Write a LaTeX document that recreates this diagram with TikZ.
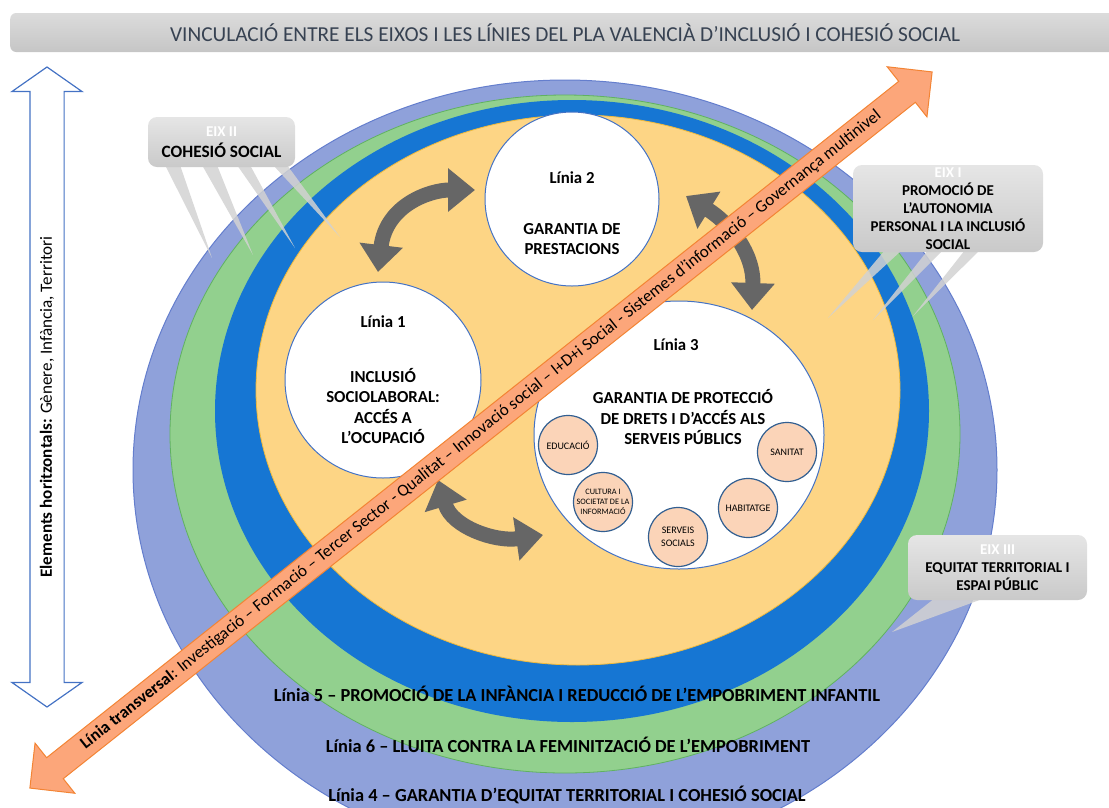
\documentclass[tikz,border=0pt]{standalone}
\usepackage{fontspec}
\setmainfont{Carlito}
\usetikzlibrary{shapes.arrows,shapes.geometric,arrows.meta}

\definecolor{lavanda}{RGB}{143,161,218}
\definecolor{lavandavora}{RGB}{100,126,205}
\definecolor{verd}{RGB}{146,208,142}
\definecolor{verdvora}{RGB}{96,178,96}
\definecolor{blau}{RGB}{22,118,211}
\definecolor{groc}{RGB}{253,213,133}
\definecolor{grocvora}{RGB}{240,186,60}
\definecolor{vorablau}{RGB}{68,114,196}
\definecolor{salmo}{RGB}{252,166,122}
\definecolor{taronja}{RGB}{243,132,52}
\definecolor{pell}{RGB}{251,212,184}
\definecolor{vorapell}{RGB}{50,95,145}
\definecolor{fletxa}{RGB}{102,102,102}
\definecolor{titol}{RGB}{55,66,82}

\begin{document}
\begin{tikzpicture}[x=1pt,y=-1pt,
    every node/.append style={inner sep=0pt},
    linia/.style={circle,draw=vorablau,fill=white,line width=1pt},
    txtlinia/.style={font=\bfseries\fontsize{16.8}{20.5}\selectfont,align=center},
    ambit/.style={circle,draw=vorapell,fill=pell,line width=1.2pt,minimum size=59pt,align=center},
    gir/.style={draw=fletxa,line width=15pt,{Triangle[width=42pt,length=27pt]}-{Triangle[width=42pt,length=27pt]}},
    eix/.style={rounded corners=9pt,top color=gray!20,bottom color=gray!42,align=center},
    punxa/.style={fill=gray!35,opacity=0.85},
    eixtxt/.style={font=\bfseries\fontsize{15}{18}\selectfont,align=center},
    peu/.style={font=\bfseries\fontsize{18.4}{20}\selectfont}]

\useasboundingbox (0,0) rectangle (1109,807);

% anells dels eixos
\filldraw[fill=lavanda,draw=lavandavora,line width=1pt] (565,470) ellipse [x radius=432pt,y radius=390pt];
\filldraw[fill=verd,draw=verdvora,line width=0.8pt] (565,434) ellipse [x radius=395pt,y radius=339pt];
\fill[blau] (572,411) ellipse [x radius=357pt,y radius=311pt];
\filldraw[fill=groc,draw=grocvora,line width=0.8pt] (578,390) ellipse [x radius=322pt,y radius=275pt];

% linies
\node[linia,minimum size=174pt] (l2) at (572,199) {};
\node[txtlinia] (l2a) at (572,178) {Línia 2};
\node[txtlinia] (l2b) at (572,239) {GARANTIA DE\\PRESTACIONS};

\node[linia,minimum size=196pt] (l1) at (383,380) {};
\node[txtlinia] (l1a) at (383,322) {Línia 1};
\node[txtlinia] (l1b) at (383,406) {INCLUSIÓ\\SOCIOLABORAL:\\ACCÉS A\\L’OCUPACIÓ};

\node[linia,ellipse,minimum width=290pt,minimum height=268pt] (l3) at (679,435) {};
\node[txtlinia] (l3a) at (676,345) {Línia 3};
\node[txtlinia] (l3b) at (683,417) {GARANTIA DE PROTECCIÓ\\DE DRETS I D’ACCÉS ALS\\SERVEIS PÚBLICS};

\node[ambit,font=\fontsize{10}{12}\selectfont] (educ) at (568,445) {EDUCACIÓ};
\node[ambit,font=\fontsize{10}{12}\selectfont] (sanit) at (787,452) {SANITAT};
\node[ambit,font=\fontsize{8.3}{10}\selectfont] (cult) at (603,502) {CULTURA I\\SOCIETAT DE LA\\INFORMACIÓ};
\node[ambit,font=\fontsize{10}{13}\selectfont] (serv) at (678,537) {SERVEIS\\SOCIALS};
\node[ambit,font=\fontsize{10}{12}\selectfont] (habit) at (748,508) {HABITATGE};

% fletxes de relacio
\coordinate (g12a) at (378,272);
\coordinate (g12b) at (475,190);
\coordinate (g23a) at (686,196);
\coordinate (g23b) at (752,310);
\coordinate (g13a) at (438,480);
\coordinate (g13b) at (543,535);
\draw[gir] (g12a) .. controls (386,205) and (430,190) .. (g12b);
\draw[gir] (g23a) .. controls (728,222) and (754,252) .. (g23b);
\draw[gir] (g13a) .. controls (452,527) and (495,542) .. (g13b);

% linia transversal
\node[double arrow,draw=taronja,fill=salmo,line width=1pt,rotate=38.44,
  minimum height=1152pt,minimum width=64pt,double arrow head extend=18pt,
  inner ysep=5pt,font=\fontsize{17}{19}\selectfont] (transv) at (481,430)
  {\textbf{Línia transversal}: Investigació – Formació – Tercer Sector - Qualitat – Innovació social – I+D+i Social - Sistemes d’informació – Governança multinivel};

% eixos
\fill[punxa] (165,165) -- (180,165) -- (212,258) -- cycle;
\fill[punxa] (202,165) -- (217,165) -- (253,255) -- cycle;
\fill[punxa] (237,165) -- (250,165) -- (295,248) -- cycle;
\fill[punxa] (273,165) -- (287,165) -- (340,237) -- cycle;
\node[eix,minimum width=147pt,minimum height=50pt] (eix2) at (221.5,142)
  {\textcolor{white}{\bfseries\fontsize{15}{18}\selectfont EIX II}\\[5pt]{\bfseries\fontsize{17.3}{18}\selectfont COHESIÓ SOCIAL}};

\fill[punxa] (885,250) -- (902,250) -- (828,318) -- cycle;
\fill[punxa] (928,250) -- (943,250) -- (873,320) -- cycle;
\fill[punxa] (965,250) -- (980,250) -- (913,316) -- cycle;
\node[eix,eixtxt,minimum width=190pt,minimum height=87pt] (eix1) at (948,208.5)
  {\textcolor{white}{EIX I}\\PROMOCIÓ DE\\L’AUTONOMIA\\PERSONAL I LA INCLUSIÓ\\SOCIAL};

\fill[punxa] (935,598) -- (985,598) -- (892,632) -- cycle;
\node[eix,eixtxt,minimum width=179pt,minimum height=65pt] (eix3) at (997.5,567.5)
  {\textcolor{white}{EIX III}\\EQUITAT TERRITORIAL I\\ESPAI PÚBLIC};

% linies horitzontals
\node[peu] (l5) at (577,694) {Línia 5 – PROMOCIÓ DE LA INFÀNCIA I REDUCCIÓ DE L’EMPOBRIMENT INFANTIL};
\node[peu] (l6) at (568,745) {Línia 6 – LLUITA CONTRA LA FEMINITZACIÓ DE L’EMPOBRIMENT};
\node[peu] (l4) at (567,795) {Línia 4 – GARANTIA D’EQUITAT TERRITORIAL I COHESIÓ SOCIAL};

% titol i elements horitzontals
\node[anchor=west,rounded corners=6pt,top color=gray!28,bottom color=gray!45,
  minimum width=1110pt,minimum height=39pt,text=titol,font=\fontsize{21.3}{23}\selectfont] (titol) at (10,32.5)
  {VINCULACIÓ ENTRE ELS EIXOS I LES LÍNIES DEL PLA VALENCIÀ D’INCLUSIÓ I COHESIÓ SOCIAL};

\node[double arrow,draw=vorablau,fill=white,line width=1.2pt,rotate=90,
  minimum height=640pt,minimum width=69pt,double arrow head extend=18pt,
  double arrow tip angle=110,inner ysep=16.5pt] (horitz) at (47,387) {};
\node[rotate=90,font=\fontsize{17.1}{19}\selectfont] (horitzt) at (47,407)
  {\textbf{Elements horitzontals:} Gènere, Infància, Territori};
\end{tikzpicture}
\end{document}
